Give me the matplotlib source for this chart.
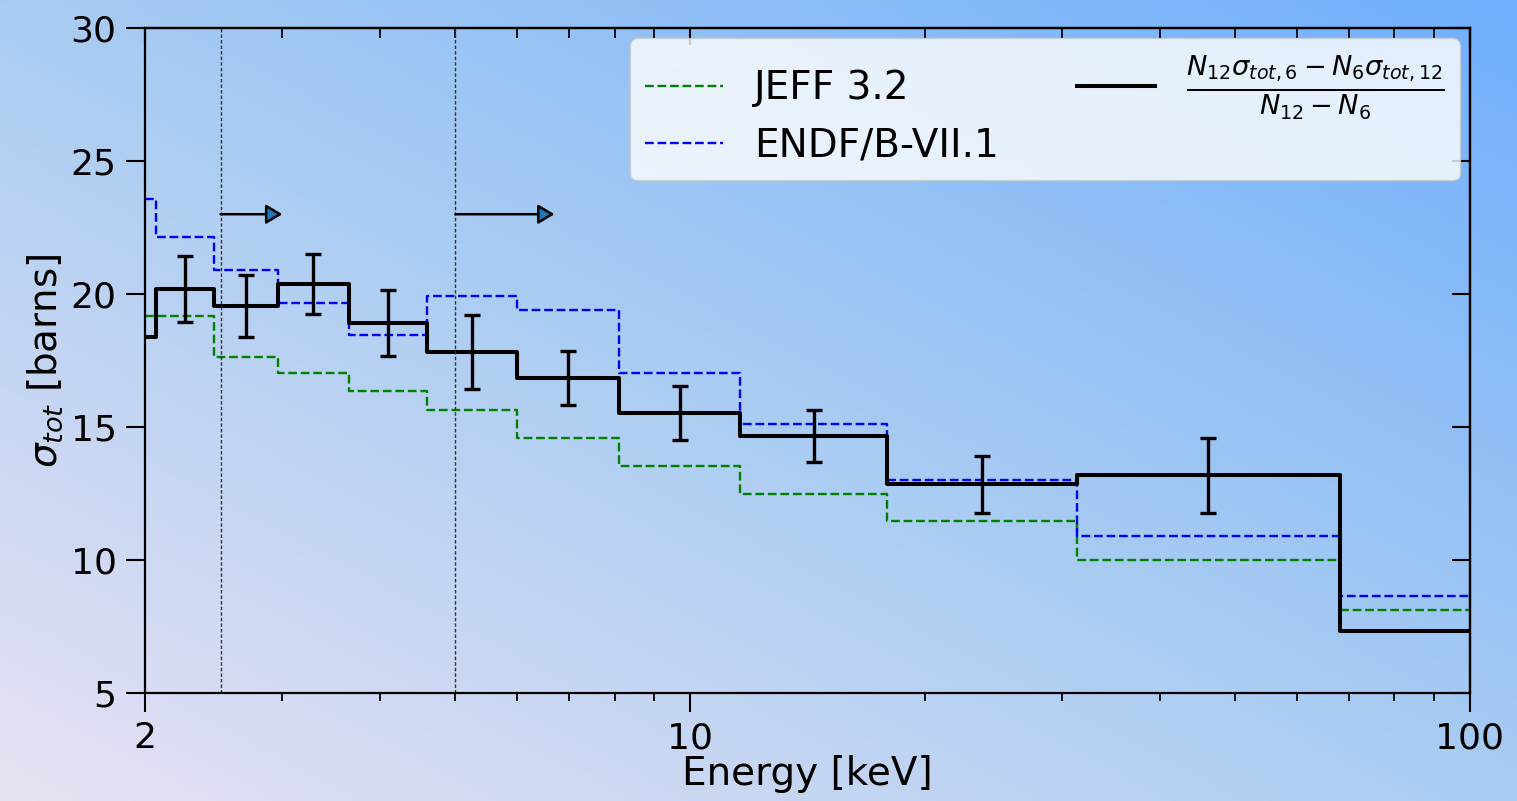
import numpy as np
import matplotlib
matplotlib.use("Agg")
import matplotlib.pyplot as plt
from matplotlib.ticker import LogLocator, NullFormatter, NullLocator
from matplotlib.colors import LinearSegmentedColormap

# bin edges [keV]
edges = [2.0, 2.066, 2.45, 2.96, 3.65, 4.6, 6.0, 8.1, 11.6, 17.9, 31.3, 68.1, 100.0]

# cross sections per bin [barns]
sigma_meas = [18.38, 20.19, 19.55, 20.38, 18.91, 17.82, 16.84, 15.53, 14.66, 12.84, 13.18, 7.35]
sigma_err = [1.23, 1.18, 1.13, 1.23, 1.39, 1.02, 1.00, 0.99, 1.06, 1.41]  # bins 1..10
sigma_endf = [23.57, 22.13, 20.90, 19.65, 18.45, 19.91, 19.39, 17.04, 15.13, 13.02, 10.89, 8.64]
sigma_jeff = [19.17, 19.17, 17.64, 17.04, 16.36, 15.63, 14.58, 13.52, 12.47, 11.46, 10.00, 8.14]

# cuts and arrows
cut_energies = [2.5, 5.0]
arrow_ends = [3.0, 6.7]
arrow_y = 23.0

bg_colors = ["#e7e2f4", "#a9ccf2", "#70affd"]


def steps(vals):
    # répète la dernière valeur pour fermer la dernière marche
    return list(vals) + [vals[-1]]


fig = plt.figure(figsize=(15.17, 8.01), dpi=100)

# fond en dégradé
bg = fig.add_axes([0, 0, 1, 1], zorder=-10)
nx, ny = 400, 220
u = np.linspace(0, 1, nx)[None, :]
v = np.linspace(1, 0, ny)[:, None]
t = (u + v) / 2
cmap = LinearSegmentedColormap.from_list("bg", bg_colors)
bg.imshow(cmap(t), aspect="auto", extent=[0, 1, 0, 1], interpolation="bilinear")
bg.axis("off")

ax = fig.add_axes([0.0956, 0.1348, 0.8734, 0.8302])
ax.set_facecolor("none")

e = np.array(edges)
centers = np.sqrt(e[1:11] * e[2:12])

ax.step(edges, steps(sigma_jeff), where="post", color="green", ls="--", lw=1.7, label="JEFF 3.2")
ax.step(edges, steps(sigma_endf), where="post", color="blue", ls="--", lw=1.7, label="ENDF/B-VII.1")
ax.step(edges, steps(sigma_meas), where="post", color="black", lw=2.9,
        label=r"$\frac{N_{12}\sigma_{tot,6} - N_6\sigma_{tot,12}}{N_{12}-N_6}$")
ax.errorbar(centers, sigma_meas[1:11], yerr=sigma_err, fmt="none", ecolor="black",
            elinewidth=2.4, capsize=5.5, capthick=2.4, zorder=5)

for ec, ea in zip(cut_energies, arrow_ends):
    ax.axvline(ec, color="#333333", lw=1.0, ls=(0, (2.5, 1.5)))
    ax.annotate("", xy=(ea, arrow_y), xytext=(ec, arrow_y),
                arrowprops=dict(arrowstyle="-|>,head_length=0.45,head_width=0.27",
                                fc="#1f77b4", ec="black", lw=1.8,
                                mutation_scale=22, shrinkA=0, shrinkB=0))

ax.set_xscale("log")
ax.set_xlim(2, 100)
ax.set_ylim(5, 30)
ax.set_xticks([2, 10, 100])
ax.set_xticklabels(["2", "10", "100"])
ax.xaxis.set_minor_locator(LogLocator(base=10, subs=np.arange(2, 10)))
ax.xaxis.set_minor_formatter(NullFormatter())
ax.set_yticks([5, 10, 15, 20, 25, 30])
ax.yaxis.set_minor_locator(NullLocator())

ax.tick_params(which="major", direction="out", length=13.5, width=1.5, labelsize=26, pad=7)
ax.tick_params(which="minor", direction="out", length=5.5, width=1.3)
for s in ax.spines.values():
    s.set_linewidth(1.6)

# ticks vers l'intérieur en haut et à droite
top = ax.secondary_xaxis("top")
top.set_xticks([2, 10, 100])
top.xaxis.set_minor_locator(LogLocator(base=10, subs=np.arange(2, 10)))
top.xaxis.set_minor_formatter(NullFormatter())
top.tick_params(which="major", direction="in", length=12.5, width=1.5, labeltop=False)
top.tick_params(which="minor", direction="in", length=7, width=1.3)
top.spines["top"].set_linewidth(1.6)

right = ax.secondary_yaxis("right")
right.set_yticks([5, 10, 15, 20, 25, 30])
right.tick_params(which="major", direction="in", length=13, width=1.5, labelright=False)
right.spines["right"].set_linewidth(1.6)

ax.set_xlabel("Energy [keV]", fontsize=28, labelpad=0)
ax.set_ylabel(r"$\sigma_{tot}$ [barns]", fontsize=28)

ax.legend(ncol=2, loc="upper right", fontsize=28, borderaxespad=0.25, framealpha=0.8)

fig.savefig("out.png", dpi=100)
